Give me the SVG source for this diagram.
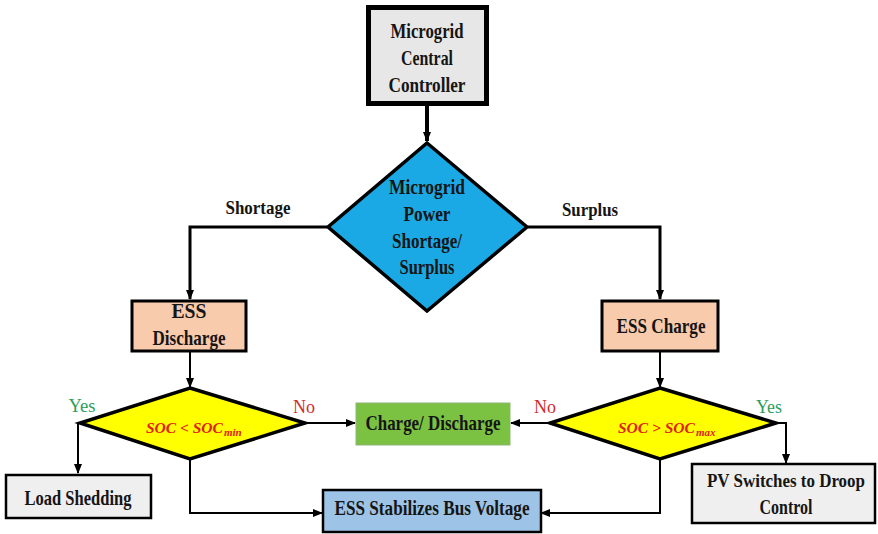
<svg xmlns="http://www.w3.org/2000/svg" width="878" height="534" viewBox="0 0 878 534">
<defs>
<marker id="ah" markerUnits="userSpaceOnUse" markerWidth="10" markerHeight="10" viewBox="0 0 10 10" refX="9" refY="5" orient="auto">
<path d="M0,1 L10,5 L0,9 Z" fill="#000"/>
</marker>
<style>
.t{font-family:"Liberation Serif","Times New Roman",serif;font-weight:bold;font-size:21px;fill:#151515;text-anchor:middle}
.soc{font-family:"Liberation Serif","Times New Roman",serif;font-weight:bold;font-style:italic;font-size:15.5px;fill:#e0201b}
.sub{font-size:11px}
.yes{font-family:"Liberation Serif","Times New Roman",serif;font-size:19px;fill:#2e9e5b;text-anchor:middle}
.no{font-family:"Liberation Serif","Times New Roman",serif;font-size:19px;fill:#d42a2a;text-anchor:middle}
.c{fill:none;stroke:#000;stroke-width:2}
</style>
</defs>
<rect width="878" height="534" fill="#fff"/>
<g id="connectors">
<path class="c" d="M427,106 V141" style="stroke-width:4" marker-end="url(#ah)"/>
<path class="c" d="M327,227 H190 V299" style="stroke-width:3" marker-end="url(#ah)"/>
<path class="c" d="M528,227 H660 V299" style="stroke-width:3" marker-end="url(#ah)"/>
<path class="c" d="M190,352 V387" marker-end="url(#ah)"/>
<path class="c" d="M660,352 V387" marker-end="url(#ah)"/>
<path class="c" d="M80,423 H78 V473" marker-end="url(#ah)"/>
<path class="c" d="M305,423 H355" marker-end="url(#ah)"/>
<path class="c" d="M550,423 H511" marker-end="url(#ah)"/>
<path class="c" d="M190,460 V513 H322" marker-end="url(#ah)"/>
<path class="c" d="M660,460 V513 H541" marker-end="url(#ah)"/>
<path class="c" d="M777,423 H786 V463" marker-end="url(#ah)"/>
<text class="t" x="258" y="214" style="font-size:19px" textLength="65" lengthAdjust="spacingAndGlyphs">Shortage</text>
<text class="t" x="590" y="216" style="font-size:19px" textLength="56" lengthAdjust="spacingAndGlyphs">Surplus</text>
<text class="yes" x="82" y="412" textLength="27" lengthAdjust="spacingAndGlyphs">Yes</text>
<text class="no" x="304" y="413" textLength="22" lengthAdjust="spacingAndGlyphs">No</text>
<text class="no" x="545" y="413" textLength="22" lengthAdjust="spacingAndGlyphs">No</text>
<text class="yes" x="769" y="413" textLength="26" lengthAdjust="spacingAndGlyphs">Yes</text>
</g>
<g id="controller">
<rect x="368.5" y="7.5" width="118" height="96" fill="#e8e7e7" stroke="#000" stroke-width="5"/>
<text class="t" x="427" y="38" textLength="73" lengthAdjust="spacingAndGlyphs">Microgrid</text>
<text class="t" x="427" y="65" textLength="52" lengthAdjust="spacingAndGlyphs">Central</text>
<text class="t" x="427" y="92" textLength="77" lengthAdjust="spacingAndGlyphs">Controller</text>
</g>
<g id="power-decision">
<polygon points="427,143 527,227 427,311 328,227" fill="#1aa9e5" stroke="#000" stroke-width="3.5"/>
<text class="t" x="427" y="194" textLength="76" lengthAdjust="spacingAndGlyphs">Microgrid</text>
<text class="t" x="427" y="221" textLength="47" lengthAdjust="spacingAndGlyphs">Power</text>
<text class="t" x="427" y="248" textLength="70" lengthAdjust="spacingAndGlyphs">Shortage/</text>
<text class="t" x="427" y="274" textLength="55" lengthAdjust="spacingAndGlyphs">Surplus</text>
</g>
<g id="ess-discharge">
<rect x="132" y="301" width="114" height="50" fill="#f8cbad" stroke="#000" stroke-width="3"/>
<text class="t" x="189" y="318" textLength="35" lengthAdjust="spacingAndGlyphs">ESS</text>
<text class="t" x="189" y="345" textLength="73" lengthAdjust="spacingAndGlyphs">Discharge</text>
</g>
<g id="ess-charge">
<rect x="602" y="301" width="116" height="50" fill="#f8cbad" stroke="#000" stroke-width="3"/>
<text class="t" x="661" y="333" textLength="89" lengthAdjust="spacingAndGlyphs">ESS Charge</text>
</g>
<g id="soc-min">
<polygon points="190,388 305,423 190,459 80,423" fill="#ffff00" stroke="#000" stroke-width="3.5"/>
<text class="soc" x="146" y="433">SOC &lt; SOC</text>
<text class="soc sub" x="224" y="436">min</text>
</g>
<g id="soc-max">
<polygon points="660,388 776,423 660,459 550,423" fill="#ffff00" stroke="#000" stroke-width="3.5"/>
<text class="soc" x="618" y="433">SOC &gt; SOC</text>
<text class="soc sub" x="696" y="436">max</text>
</g>
<g id="charge-discharge">
<rect x="356" y="403" width="154" height="42" fill="#7cc242" stroke="#8fb57a" stroke-width="1"/>
<text class="t" x="433" y="430" textLength="135" lengthAdjust="spacingAndGlyphs">Charge/ Discharge</text>
</g>
<g id="load-shedding">
<rect x="6" y="475" width="145" height="43" fill="#efefef" stroke="#000" stroke-width="2.5"/>
<text class="t" x="78" y="505" textLength="107" lengthAdjust="spacingAndGlyphs">Load Shedding</text>
</g>
<g id="ess-stabilizes">
<rect x="323" y="490" width="218" height="42" fill="#9dc3e6" stroke="#000" stroke-width="2.5"/>
<text class="t" x="432" y="515" textLength="195" lengthAdjust="spacingAndGlyphs">ESS Stabilizes Bus Voltage</text>
</g>
<g id="pv-droop">
<rect x="692" y="464" width="183" height="59" fill="#efefef" stroke="#000" stroke-width="2.5"/>
<text class="t" x="786" y="487" style="font-size:18px" textLength="158" lengthAdjust="spacingAndGlyphs">PV Switches to Droop</text>
<text class="t" x="786" y="514" textLength="53" lengthAdjust="spacingAndGlyphs">Control</text>
</g>
</svg>
